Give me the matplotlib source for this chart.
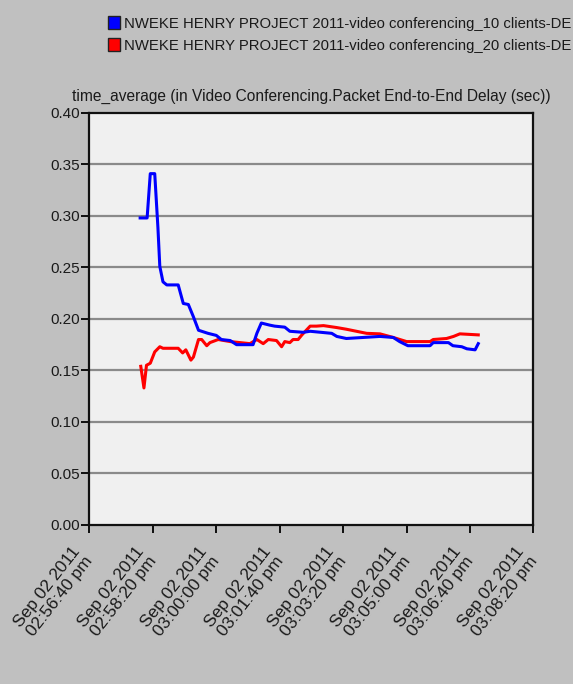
import matplotlib
matplotlib.use("Agg")
import matplotlib.pyplot as plt
import matplotlib.transforms as mtransforms
from matplotlib.patches import Patch

# seconds after Sep 02 2011 02:56:40 pm
blue_t = [80, 91, 96, 103, 108, 111, 116, 122, 140, 148, 156, 164, 172, 177, 187,
          200, 208, 222, 232, 258, 264, 271, 284, 292, 308, 316, 337, 348, 382, 390,
          405, 458, 479, 489, 502, 537, 542, 566, 573, 587, 595, 608, 613]
blue_v = [0.298, 0.298, 0.341, 0.341, 0.289, 0.251, 0.236, 0.233, 0.233, 0.215, 0.214,
          0.202, 0.189, 0.188, 0.186, 0.184, 0.180, 0.179, 0.175, 0.175, 0.186, 0.196,
          0.194, 0.193, 0.192, 0.188, 0.187, 0.188, 0.186, 0.183, 0.181, 0.183, 0.182,
          0.178, 0.174, 0.174, 0.177, 0.177, 0.174, 0.173, 0.171, 0.170, 0.176]

red_t = [81, 86, 90, 96, 103, 111, 116, 140, 147, 152, 160, 164, 172, 177, 185, 190,
         203, 222, 253, 264, 274, 282, 295, 303, 308, 316, 321, 329, 335, 348, 358,
         369, 390, 405, 421, 437, 458, 479, 500, 537, 542, 563, 574, 584, 613]
red_v = [0.154, 0.133, 0.155, 0.157, 0.168, 0.173, 0.1715, 0.1715, 0.167, 0.170, 0.160,
         0.163, 0.180, 0.180, 0.174, 0.177, 0.180, 0.178, 0.176, 0.180, 0.176, 0.180,
         0.179, 0.173, 0.178, 0.177, 0.180, 0.180, 0.1845, 0.193, 0.193, 0.1935, 0.1916,
         0.190, 0.188, 0.186, 0.1855, 0.182, 0.178, 0.178, 0.180, 0.181, 0.183, 0.1855,
         0.1845]

x_ticks = [0, 100, 200, 300, 400, 500, 600, 700]
x_labels = ["Sep 02 2011\n02:56:40 pm", "Sep 02 2011\n02:58:20 pm",
            "Sep 02 2011\n03:00:00 pm", "Sep 02 2011\n03:01:40 pm",
            "Sep 02 2011\n03:03:20 pm", "Sep 02 2011\n03:05:00 pm",
            "Sep 02 2011\n03:06:40 pm", "Sep 02 2011\n03:08:20 pm"]
y_ticks = [0.0, 0.05, 0.10, 0.15, 0.20, 0.25, 0.30, 0.35, 0.40]

series_names = ["NWEKE HENRY PROJECT 2011-video conferencing_10 clients-DE",
                "NWEKE HENRY PROJECT 2011-video conferencing_20 clients-DE"]
title = "time_average (in Video Conferencing.Packet End-to-End Delay (sec))"

plt.rcParams['font.family'] = ['Liberation Sans', 'DejaVu Sans']
txt = '#1a1a1a'

fig = plt.figure(figsize=(5.73, 6.84), dpi=100, facecolor='#c0c0c0')
ax = fig.add_axes([0.156, 0.2325, 0.775, 0.6025])
ax.set_facecolor('#f0f0f0')

for y in y_ticks[1:-1]:
    ax.axhline(y, color='#8a8a8a', lw=1.6, zorder=1)

ax.plot(red_t, red_v, color='#ff0000', lw=2.2, zorder=3)
ax.plot(blue_t, blue_v, color='#0000ff', lw=2.2, zorder=4)

ax.set_xlim(0, 700)
ax.set_ylim(0, 0.40)
ax.set_yticks(y_ticks)
ax.set_yticklabels([f"{v:.2f}" for v in y_ticks], fontsize=11, color=txt)
ax.set_xticks(x_ticks)
ax.set_xticklabels(x_labels, rotation=52, ha='right', rotation_mode='anchor',
                   fontsize=12.5, color=txt, linespacing=1.1)
ax.tick_params(axis='y', length=6, width=1.3, pad=0.5)
ax.tick_params(axis='x', length=6, width=1.3, pad=7.5)
shift = mtransforms.ScaledTranslation(-0.18, 0, fig.dpi_scale_trans)
for lab in ax.get_xticklabels():
    lab.set_transform(lab.get_transform() + shift)
for s in ax.spines.values():
    s.set_linewidth(1.6)
    s.set_color('#111111')

ax.text(0.5, 1.029, title, transform=ax.transAxes, ha='center', va='baseline',
        fontsize=11.2, color=txt)

handles = [Patch(facecolor='#0000ff', edgecolor='#222222'),
           Patch(facecolor='#ff0000', edgecolor='#222222')]
fig.legend(handles, series_names, loc='upper left', bbox_to_anchor=(0.166, 0.996),
           frameon=False, fontsize=10.7, handlelength=0.75, handleheight=0.95,
           handletextpad=0.3, labelspacing=0.5, labelcolor=txt)

fig.savefig("out.png", dpi=100, facecolor=fig.get_facecolor())
